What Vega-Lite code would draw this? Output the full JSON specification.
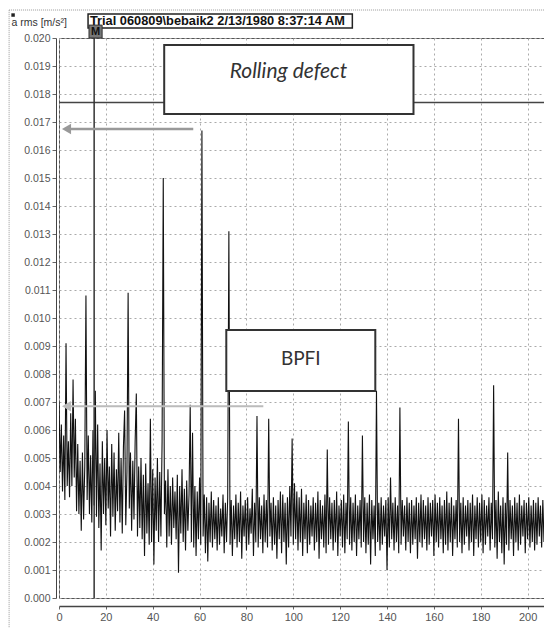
{
"$schema":"https://vega.github.io/schema/vega-lite/v6.json",
"width":485,"height":560,
"autosize":{"type":"none"},
"padding":{"left":59,"top":38,"right":0,"bottom":30},
"background":"white",
"config":{"view":{"stroke":"#555","strokeWidth":1},"font":"Liberation Sans",
 "axis":{"gridColor":"#aaa","gridDash":[2,3],"gridWidth":1,"labelColor":"#555","labelFontSize":10.5,"tickColor":"#666","domainColor":"#444","labelOverlap":false}},
"datasets":{"spec":[
{"f":0,"a":0.0070},{"f":0.5,"a":0.0045},{"f":1,"a":0.0062},{"f":1.5,"a":0.0038},{"f":2,"a":0.0058},{"f":2.5,"a":0.0035},{"f":3,"a":0.0091},{"f":3.5,"a":0.0040},{"f":4,"a":0.0056},{"f":4.5,"a":0.0036},
{"f":5,"a":0.0066},{"f":5.5,"a":0.0040},{"f":6,"a":0.0078},{"f":6.5,"a":0.0043},{"f":7,"a":0.0064},{"f":7.5,"a":0.0031},{"f":8,"a":0.0055},{"f":8.5,"a":0.0030},{"f":9,"a":0.0049},{"f":9.5,"a":0.0024},
{"f":10,"a":0.0052},{"f":10.5,"a":0.0028},{"f":11,"a":0.0047},{"f":11.5,"a":0.0108},{"f":12,"a":0.0035},{"f":12.5,"a":0.0058},{"f":13,"a":0.0030},{"f":13.5,"a":0.0051},{"f":14,"a":0.0027},{"f":14.5,"a":0.0060},
{"f":15,"a":0.0033},{"f":15.5,"a":0.0074},{"f":16,"a":0.0029},{"f":16.5,"a":0.0062},{"f":17,"a":0.0025},{"f":17.5,"a":0.0048},{"f":18,"a":0.0017},{"f":18.5,"a":0.0056},{"f":19,"a":0.0030},{"f":19.5,"a":0.0050},
{"f":20,"a":0.0026},{"f":20.5,"a":0.0060},{"f":21,"a":0.0032},{"f":21.5,"a":0.0047},{"f":22,"a":0.0022},{"f":22.5,"a":0.0055},{"f":23,"a":0.0029},{"f":23.5,"a":0.0052},{"f":24,"a":0.0024},{"f":24.5,"a":0.0046},
{"f":25,"a":0.0031},{"f":25.5,"a":0.0059},{"f":26,"a":0.0027},{"f":26.5,"a":0.0050},{"f":27,"a":0.0023},{"f":27.5,"a":0.0054},{"f":28,"a":0.0067},{"f":28.5,"a":0.0026},{"f":29,"a":0.0045},{"f":29.5,"a":0.0109},
{"f":30,"a":0.0032},{"f":30.5,"a":0.0052},{"f":31,"a":0.0024},{"f":31.5,"a":0.0049},{"f":32,"a":0.0028},{"f":32.5,"a":0.0056},{"f":33,"a":0.0073},{"f":33.5,"a":0.0022},{"f":34,"a":0.0047},{"f":34.5,"a":0.0025},
{"f":35,"a":0.0050},{"f":35.5,"a":0.0021},{"f":36,"a":0.0044},{"f":36.5,"a":0.0015},{"f":37,"a":0.0048},{"f":37.5,"a":0.0023},{"f":38,"a":0.0041},{"f":38.5,"a":0.0019},{"f":39,"a":0.0064},{"f":39.5,"a":0.0020},
{"f":40,"a":0.0046},{"f":40.5,"a":0.0012},{"f":41,"a":0.0043},{"f":41.5,"a":0.0024},{"f":42,"a":0.0050},{"f":42.5,"a":0.0020},{"f":43,"a":0.0045},{"f":43.5,"a":0.0022},{"f":44,"a":0.0056},{"f":44.5,"a":0.0150},
{"f":45,"a":0.0030},{"f":45.5,"a":0.0042},{"f":46,"a":0.0018},{"f":46.5,"a":0.0046},{"f":47,"a":0.0022},{"f":47.5,"a":0.0040},{"f":48,"a":0.0019},{"f":48.5,"a":0.0043},{"f":49,"a":0.0025},{"f":49.5,"a":0.0038},
{"f":50,"a":0.0021},{"f":50.5,"a":0.0044},{"f":51,"a":0.0009},{"f":51.5,"a":0.0040},{"f":52,"a":0.0023},{"f":52.5,"a":0.0046},{"f":53,"a":0.0020},{"f":53.5,"a":0.0039},{"f":54,"a":0.0017},{"f":54.5,"a":0.0042},
{"f":55,"a":0.0024},{"f":55.5,"a":0.0037},{"f":56,"a":0.0069},{"f":56.5,"a":0.0020},{"f":57,"a":0.0059},{"f":57.5,"a":0.0018},{"f":58,"a":0.0040},{"f":58.5,"a":0.0015},{"f":59,"a":0.0038},{"f":59.5,"a":0.0021},
{"f":60,"a":0.0043},{"f":60.5,"a":0.0019},{"f":61,"a":0.0167},{"f":61.5,"a":0.0022},{"f":62,"a":0.0037},{"f":62.5,"a":0.0016},{"f":63,"a":0.0036},{"f":63.5,"a":0.0013},{"f":64,"a":0.0034},{"f":64.5,"a":0.0020},
{"f":65,"a":0.0038},{"f":65.5,"a":0.0018},{"f":66,"a":0.0035},{"f":66.5,"a":0.0021},{"f":67,"a":0.0033},{"f":67.5,"a":0.0017},{"f":68,"a":0.0036},{"f":68.5,"a":0.0019},{"f":69,"a":0.0032},{"f":69.5,"a":0.0022},
{"f":70,"a":0.0037},{"f":70.5,"a":0.0016},{"f":71,"a":0.0034},{"f":71.5,"a":0.0020},{"f":72,"a":0.0036},{"f":72.5,"a":0.0131},{"f":73,"a":0.0019},{"f":73.5,"a":0.0035},{"f":74,"a":0.0015},{"f":74.5,"a":0.0033},
{"f":75,"a":0.0021},{"f":75.5,"a":0.0037},{"f":76,"a":0.0018},{"f":76.5,"a":0.0034},{"f":77,"a":0.0020},{"f":77.5,"a":0.0038},{"f":78,"a":0.0014},{"f":78.5,"a":0.0033},{"f":79,"a":0.0022},{"f":79.5,"a":0.0035},
{"f":80,"a":0.0017},{"f":80.5,"a":0.0036},{"f":81,"a":0.0019},{"f":81.5,"a":0.0032},{"f":82,"a":0.0023},{"f":82.5,"a":0.0039},{"f":83,"a":0.0015},{"f":83.5,"a":0.0034},{"f":84,"a":0.0020},{"f":84.5,"a":0.0065},
{"f":85,"a":0.0018},{"f":85.5,"a":0.0036},{"f":86,"a":0.0021},{"f":86.5,"a":0.0033},{"f":87,"a":0.0016},{"f":87.5,"a":0.0037},{"f":88,"a":0.0020},{"f":88.5,"a":0.0035},{"f":89,"a":0.0018},{"f":89.5,"a":0.0064},
{"f":90,"a":0.0022},{"f":90.5,"a":0.0034},{"f":91,"a":0.0017},{"f":91.5,"a":0.0036},{"f":92,"a":0.0019},{"f":92.5,"a":0.0033},{"f":93,"a":0.0014},{"f":93.5,"a":0.0035},{"f":94,"a":0.0021},{"f":94.5,"a":0.0038},
{"f":95,"a":0.0016},{"f":95.5,"a":0.0037},{"f":96,"a":0.0020},{"f":96.5,"a":0.0034},{"f":97,"a":0.0012},{"f":97.5,"a":0.0036},{"f":98,"a":0.0018},{"f":98.5,"a":0.0040},{"f":99,"a":0.0022},{"f":99.5,"a":0.0057},
{"f":100,"a":0.0019},{"f":100.5,"a":0.0041},{"f":101,"a":0.0021},{"f":101.5,"a":0.0038},{"f":102,"a":0.0017},{"f":102.5,"a":0.0036},{"f":103,"a":0.0020},{"f":103.5,"a":0.0039},{"f":104,"a":0.0015},{"f":104.5,"a":0.0034},
{"f":105,"a":0.0021},{"f":105.5,"a":0.0037},{"f":106,"a":0.0016},{"f":106.5,"a":0.0035},{"f":107,"a":0.0019},{"f":107.5,"a":0.0033},{"f":108,"a":0.0022},{"f":108.5,"a":0.0036},{"f":109,"a":0.0017},{"f":109.5,"a":0.0034},
{"f":110,"a":0.0020},{"f":110.5,"a":0.0038},{"f":111,"a":0.0014},{"f":111.5,"a":0.0035},{"f":112,"a":0.0021},{"f":112.5,"a":0.0033},{"f":113,"a":0.0018},{"f":113.5,"a":0.0037},{"f":114,"a":0.0016},{"f":114.5,"a":0.0053},
{"f":115,"a":0.0019},{"f":115.5,"a":0.0036},{"f":116,"a":0.0021},{"f":116.5,"a":0.0034},{"f":117,"a":0.0017},{"f":117.5,"a":0.0035},{"f":118,"a":0.0020},{"f":118.5,"a":0.0038},{"f":119,"a":0.0015},{"f":119.5,"a":0.0033},
{"f":120,"a":0.0022},{"f":120.5,"a":0.0035},{"f":121,"a":0.0018},{"f":121.5,"a":0.0037},{"f":122,"a":0.0016},{"f":122.5,"a":0.0034},{"f":123,"a":0.0021},{"f":123.5,"a":0.0063},{"f":124,"a":0.0019},{"f":124.5,"a":0.0036},
{"f":125,"a":0.0017},{"f":125.5,"a":0.0034},{"f":126,"a":0.0020},{"f":126.5,"a":0.0037},{"f":127,"a":0.0015},{"f":127.5,"a":0.0033},{"f":128,"a":0.0021},{"f":128.5,"a":0.0035},{"f":129,"a":0.0018},{"f":129.5,"a":0.0058},
{"f":130,"a":0.0020},{"f":130.5,"a":0.0036},{"f":131,"a":0.0016},{"f":131.5,"a":0.0034},{"f":132,"a":0.0019},{"f":132.5,"a":0.0037},{"f":133,"a":0.0012},{"f":133.5,"a":0.0035},{"f":134,"a":0.0021},{"f":134.5,"a":0.0033},
{"f":135,"a":0.0015},{"f":135.5,"a":0.0074},{"f":136,"a":0.0020},{"f":136.5,"a":0.0034},{"f":137,"a":0.0017},{"f":137.5,"a":0.0036},{"f":138,"a":0.0019},{"f":138.5,"a":0.0033},{"f":139,"a":0.0022},{"f":139.5,"a":0.0035},
{"f":140,"a":0.0010},{"f":140.5,"a":0.0036},{"f":141,"a":0.0018},{"f":141.5,"a":0.0043},{"f":142,"a":0.0021},{"f":142.5,"a":0.0034},{"f":143,"a":0.0017},{"f":143.5,"a":0.0036},{"f":144,"a":0.0020},{"f":144.5,"a":0.0033},
{"f":145,"a":0.0016},{"f":145.5,"a":0.0068},{"f":146,"a":0.0019},{"f":146.5,"a":0.0035},{"f":147,"a":0.0022},{"f":147.5,"a":0.0033},{"f":148,"a":0.0017},{"f":148.5,"a":0.0036},{"f":149,"a":0.0020},{"f":149.5,"a":0.0034},
{"f":150,"a":0.0016},{"f":150.5,"a":0.0035},{"f":151,"a":0.0019},{"f":151.5,"a":0.0033},{"f":152,"a":0.0021},{"f":152.5,"a":0.0036},{"f":153,"a":0.0014},{"f":153.5,"a":0.0034},{"f":154,"a":0.0020},{"f":154.5,"a":0.0037},
{"f":155,"a":0.0018},{"f":155.5,"a":0.0035},{"f":156,"a":0.0021},{"f":156.5,"a":0.0033},{"f":157,"a":0.0017},{"f":157.5,"a":0.0036},{"f":158,"a":0.0019},{"f":158.5,"a":0.0034},{"f":159,"a":0.0022},{"f":159.5,"a":0.0035},
{"f":160,"a":0.0015},{"f":160.5,"a":0.0037},{"f":161,"a":0.0020},{"f":161.5,"a":0.0034},{"f":162,"a":0.0018},{"f":162.5,"a":0.0036},{"f":163,"a":0.0021},{"f":163.5,"a":0.0033},{"f":164,"a":0.0016},{"f":164.5,"a":0.0035},
{"f":165,"a":0.0019},{"f":165.5,"a":0.0038},{"f":166,"a":0.0017},{"f":166.5,"a":0.0034},{"f":167,"a":0.0020},{"f":167.5,"a":0.0036},{"f":168,"a":0.0015},{"f":168.5,"a":0.0033},{"f":169,"a":0.0021},{"f":169.5,"a":0.0035},
{"f":170,"a":0.0018},{"f":170.5,"a":0.0064},{"f":171,"a":0.0020},{"f":171.5,"a":0.0034},{"f":172,"a":0.0016},{"f":172.5,"a":0.0036},{"f":173,"a":0.0019},{"f":173.5,"a":0.0033},{"f":174,"a":0.0022},{"f":174.5,"a":0.0035},
{"f":175,"a":0.0017},{"f":175.5,"a":0.0034},{"f":176,"a":0.0020},{"f":176.5,"a":0.0037},{"f":177,"a":0.0015},{"f":177.5,"a":0.0033},{"f":178,"a":0.0021},{"f":178.5,"a":0.0036},{"f":179,"a":0.0018},{"f":179.5,"a":0.0034},
{"f":180,"a":0.0020},{"f":180.5,"a":0.0037},{"f":181,"a":0.0016},{"f":181.5,"a":0.0035},{"f":182,"a":0.0019},{"f":182.5,"a":0.0033},{"f":183,"a":0.0022},{"f":183.5,"a":0.0036},{"f":184,"a":0.0017},{"f":184.5,"a":0.0034},
{"f":185,"a":0.0021},{"f":185.5,"a":0.0076},{"f":186,"a":0.0018},{"f":186.5,"a":0.0035},{"f":187,"a":0.0014},{"f":187.5,"a":0.0038},{"f":188,"a":0.0020},{"f":188.5,"a":0.0033},{"f":189,"a":0.0016},{"f":189.5,"a":0.0036},
{"f":190,"a":0.0012},{"f":190.5,"a":0.0034},{"f":191,"a":0.0019},{"f":191.5,"a":0.0052},{"f":192,"a":0.0017},{"f":192.5,"a":0.0035},{"f":193,"a":0.0021},{"f":193.5,"a":0.0033},{"f":194,"a":0.0015},{"f":194.5,"a":0.0036},
{"f":195,"a":0.0020},{"f":195.5,"a":0.0034},{"f":196,"a":0.0017},{"f":196.5,"a":0.0037},{"f":197,"a":0.0019},{"f":197.5,"a":0.0033},{"f":198,"a":0.0022},{"f":198.5,"a":0.0035},{"f":199,"a":0.0016},{"f":199.5,"a":0.0034},
{"f":200,"a":0.0021},{"f":200.5,"a":0.0036},{"f":201,"a":0.0018},{"f":201.5,"a":0.0033},{"f":202,"a":0.0020},{"f":202.5,"a":0.0035},{"f":203,"a":0.0017},{"f":203.5,"a":0.0034},{"f":204,"a":0.0019},{"f":204.5,"a":0.0036},
{"f":205,"a":0.0022},{"f":205.5,"a":0.0033},{"f":206,"a":0.0018},{"f":206.5,"a":0.0035},{"f":207,"a":0.0020}
]},
"layer":[
{"data":{"name":"spec"},"mark":{"type":"line","color":"#111","strokeWidth":1.1,"clip":true},
 "encoding":{
  "x":{"field":"f","type":"quantitative","scale":{"domain":[0,207],"nice":false,"zero":false},
   "axis":{"values":[0,20,40,60,80,100,120,140,160,180,200],"tickCount":20,"title":null,"offset":8,"labelFlush":false,"labelFontSize":11,"tickSize":3,"domainWidth":1.5,"grid":true}},
  "y":{"field":"a","type":"quantitative","scale":{"domain":[0,0.02],"nice":false},
   "axis":{"values":[0,0.001,0.002,0.003,0.004,0.005,0.006,0.007,0.008,0.009,0.01,0.011,0.012,0.013,0.014,0.015,0.016,0.017,0.018,0.019,0.02],"tickCount":30,"format":".3f","offset":3,"tickSize":4,"grid":true,"labelOverlap":false,
     "title":"a rms [m/s²]","titleAngle":0,"titleAlign":"left","titleBaseline":"middle","titleX":-45,"titleY":-16,"titleFontSize":10.5,"titleFontWeight":"normal","titleColor":"#333"}}}},
{"data":{"values":[{"y":0.0177}]},"mark":{"type":"rule","color":"#444","strokeWidth":1.5},
 "encoding":{"y":{"field":"y","type":"quantitative","scale":{"domain":[0,0.02],"nice":false}}}},
{"data":{"values":[{"x":15,"y":0,"y2":0.0201}]},"mark":{"type":"rule","color":"#333","strokeWidth":1.5},
 "encoding":{"x":{"field":"x","type":"quantitative","scale":{"domain":[0,207],"nice":false,"zero":false}},"y":{"field":"y","type":"quantitative","scale":{"domain":[0,0.02],"nice":false}},"y2":{"field":"y2"}}},
{"data":{"values":[{"x":44.9,"x2":151.3,"y":0.01729,"y2":0.01975,"box":"Rolling defect"},{"x":71.4,"x2":135,"y":0.00739,"y2":0.00957,"box":"BPFI"}]},
 "mark":{"type":"rect","fill":"white","stroke":"#333","strokeWidth":2},
 "encoding":{"x":{"field":"x","type":"quantitative","scale":{"domain":[0,207],"nice":false,"zero":false}},"x2":{"field":"x2"},"y":{"field":"y","type":"quantitative","scale":{"domain":[0,0.02],"nice":false}},"y2":{"field":"y2"}}},
{"data":{"values":[{"x":97.9,"y":0.01877,"t":"Rolling  defect"}]},"mark":{"type":"text","font":"Lato","fontStyle":"italic","fontSize":21,"color":"#333","align":"center","baseline":"middle"},
 "encoding":{"x":{"field":"x","type":"quantitative","scale":{"domain":[0,207],"nice":false,"zero":false}},"y":{"field":"y","type":"quantitative","scale":{"domain":[0,0.02],"nice":false}},"text":{"field":"t"}}},
{"data":{"values":[{"x":103.2,"y":0.00855,"t":"BPFI"}]},"mark":{"type":"text","font":"Lato","fontSize":19,"color":"#333","align":"center","baseline":"middle"},
 "encoding":{"x":{"field":"x","type":"quantitative","scale":{"domain":[0,207],"nice":false,"zero":false}},"y":{"field":"y","type":"quantitative","scale":{"domain":[0,0.02],"nice":false}},"text":{"field":"t"}}},
{"data":{"values":[{"x":3.5,"x2":57.3,"y":0.01675,"c":"a1"},{"x":3.5,"x2":87.2,"y":0.00685,"c":"a2"}]},"mark":{"type":"rule","strokeCap":"butt"},
 "encoding":{"x":{"field":"x","type":"quantitative","scale":{"domain":[0,207],"nice":false,"zero":false}},"x2":{"field":"x2"},"y":{"field":"y","type":"quantitative","scale":{"domain":[0,0.02],"nice":false}},
  "color":{"field":"c","type":"nominal","scale":{"domain":["a1","a2"],"range":["#999","#bbb"]},"legend":null},
  "strokeWidth":{"field":"c","type":"nominal","scale":{"domain":["a1","a2"],"range":[2.5,2]},"legend":null}}},
{"data":{"values":[{"x":3.2,"y":0.01675,"c":"a1"},{"x":3.2,"y":0.00685,"c":"a2"}]},"mark":{"type":"point","shape":"triangle-left","filled":true,"size":110,"opacity":1},
 "encoding":{"x":{"field":"x","type":"quantitative","scale":{"domain":[0,207],"nice":false,"zero":false}},"y":{"field":"y","type":"quantitative","scale":{"domain":[0,0.02],"nice":false}},
  "color":{"field":"c","type":"nominal","scale":{"domain":["a1","a2"],"range":["#999","#bbb"]},"legend":null}}},
{"data":{"values":[{"x":12.4,"x2":125.2,"y":0.02036,"y2":0.02086}]},"mark":{"type":"rect","fill":"white","stroke":"#222","strokeWidth":1.5,"clip":false},
 "encoding":{"x":{"field":"x","type":"quantitative","scale":{"domain":[0,207],"nice":false,"zero":false}},"x2":{"field":"x2"},"y":{"field":"y","type":"quantitative","scale":{"domain":[0,0.02],"nice":false}},"y2":{"field":"y2"}}},
{"data":{"values":[{"x":13.2,"y":0.02061,"t":"Trial 060809\\bebaik2 2/13/1980 8:37:14 AM"}]},"mark":{"type":"text","font":"Liberation Sans","fontWeight":"bold","fontSize":12.8,"color":"#111","align":"left","baseline":"middle","clip":false},
 "encoding":{"x":{"field":"x","type":"quantitative","scale":{"domain":[0,207],"nice":false,"zero":false}},"y":{"field":"y","type":"quantitative","scale":{"domain":[0,0.02],"nice":false}},"text":{"field":"t"}}},
{"data":{"values":[{"x":12.8,"x2":18.4,"y":0.0200,"y2":0.02046}]},"mark":{"type":"rect","fill":"#777","stroke":"#333","strokeWidth":1,"clip":false},
 "encoding":{"x":{"field":"x","type":"quantitative","scale":{"domain":[0,207],"nice":false,"zero":false}},"x2":{"field":"x2"},"y":{"field":"y","type":"quantitative","scale":{"domain":[0,0.02],"nice":false}},"y2":{"field":"y2"}}},
{"data":{"values":[{"x":15.6,"y":0.02023,"t":"M"}]},"mark":{"type":"text","font":"Liberation Sans","fontWeight":"bold","fontSize":11,"color":"#111","align":"center","baseline":"middle","clip":false},
 "encoding":{"x":{"field":"x","type":"quantitative","scale":{"domain":[0,207],"nice":false,"zero":false}},"y":{"field":"y","type":"quantitative","scale":{"domain":[0,0.02],"nice":false}},"text":{"field":"t"}}},
{"data":{"values":[{"x":-21.3,"y":-0.0011,"y2":0.0210}]},"mark":{"type":"rule","color":"#999","strokeDash":[1,1],"strokeWidth":1,"clip":false},
 "encoding":{"x":{"field":"x","type":"quantitative","scale":{"domain":[0,207],"nice":false,"zero":false}},"y":{"field":"y","type":"quantitative","scale":{"domain":[0,0.02],"nice":false}},"y2":{"field":"y2"}}},
{"data":{"values":[{"x":-21.3,"x2":207,"y":0.0210}]},"mark":{"type":"rule","color":"#999","strokeDash":[1,1],"strokeWidth":1,"clip":false},
 "encoding":{"x":{"field":"x","type":"quantitative","scale":{"domain":[0,207],"nice":false,"zero":false}},"x2":{"field":"x2"},"y":{"field":"y","type":"quantitative","scale":{"domain":[0,0.02],"nice":false}}}},
{"data":{"values":[{"x":-19.6,"y":0.02082}]},"mark":{"type":"square","color":"#222","size":12,"opacity":1,"clip":false},
 "encoding":{"x":{"field":"x","type":"quantitative","scale":{"domain":[0,207],"nice":false,"zero":false}},"y":{"field":"y","type":"quantitative","scale":{"domain":[0,0.02],"nice":false}}}}
]
}
